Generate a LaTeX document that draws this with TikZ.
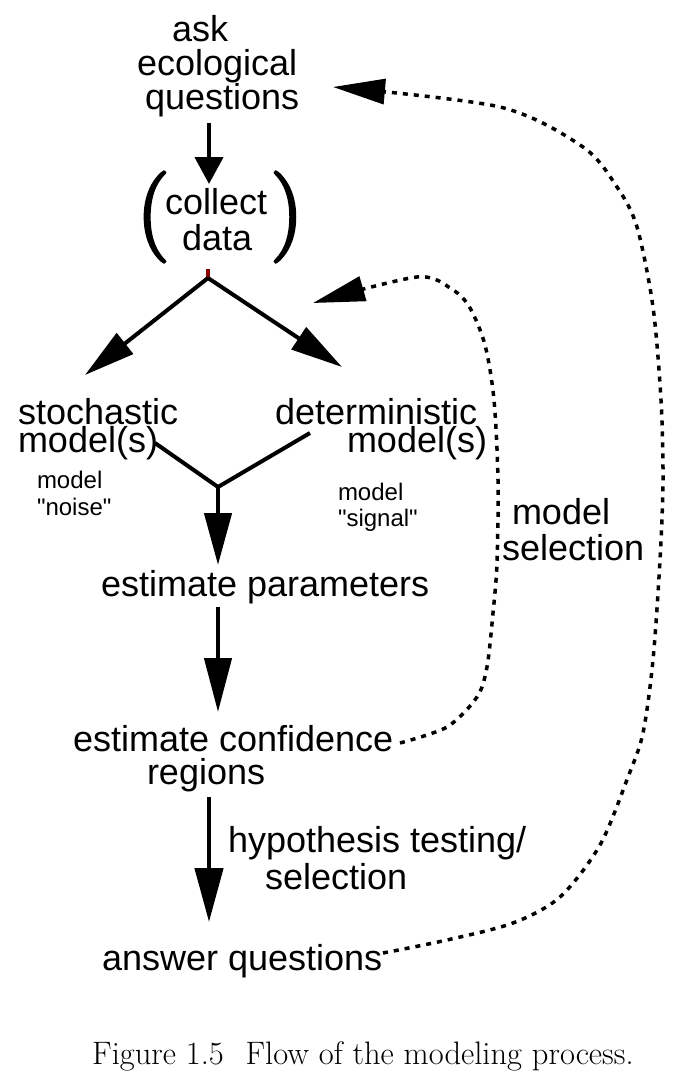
\documentclass[tikz,border=0pt]{standalone}
\usepackage{fontspec}
\newfontfamily\sansf{Liberation Sans}
\usetikzlibrary{arrows.meta}
\definecolor{tickred}{HTML}{8B0000}
\newcommand{\thickglyph}[1]{\special{pdf:literal direct 2 Tr 3 w 0 0 0 RG}#1\special{pdf:literal direct 0 Tr}}
\begin{document}
\begin{tikzpicture}[x=1pt,y=-1pt,
  txt/.style={font=\sansf\fontsize{36}{34}\selectfont, inner sep=0pt, outer sep=0pt, anchor=base west},
  smalltxt/.style={font=\sansf\fontsize{24}{27}\selectfont, inner sep=0pt, outer sep=0pt, anchor=base west},
  paren/.style={font=\fontsize{90}{90}\selectfont, inner sep=0pt, outer sep=0pt, anchor=center},
  solidarr/.style={line width=4.5pt, -{Triangle[length=52pt,width=27pt]}},
  shortarr/.style={line width=4.5pt, -{Triangle[length=27pt,width=28pt]}},
  plainline/.style={line width=4pt},
  dotarr/.style={line width=3.5pt, dash pattern=on 5pt off 6pt, -{Triangle[length=52pt,width=25pt]}},
]
\useasboundingbox (0,0) rectangle (696,1089);

% texts
\node[txt] (ask1) at (172,42) {ask};
\node[txt] (ask2) at (137,76) {ecological};
\node[txt] (ask3) at (145,110) {questions};

\node[txt] (coll1) at (165,214) {collect};
\node[txt] (coll2) at (182,250) {data};
\node[paren] (lp) at (153,217) {\thickglyph{(}};
\node[paren] (rp) at (287,217) {\thickglyph{)}};

\node[txt] (sto1) at (18,424) {stochastic};
\node[txt] (sto2) at (18,452) {model(s)};
\node[txt] (det1) at (275,424) {deterministic};
\node[txt] (det2) at (347,452) {model(s)};

\node[smalltxt] (noise1) at (37,488) {model};
\node[smalltxt] (noise2) at (37,515) {"noise"};
\node[smalltxt] (sig1) at (338,500) {model};
\node[smalltxt] (sig2) at (338,526) {"signal"};

\node[txt] (est) at (101,596) {estimate parameters};
\node[txt] (conf1) at (73,751) {estimate confidence};
\node[txt] (conf2) at (147,784) {regions};
\node[txt] (hyp1) at (228,852) {hypothesis testing/};
\node[txt] (hyp2) at (265,889) {selection};
\node[txt] (ans) at (102,970) {answer questions};
\node[txt] (ms1) at (512,524) {model};
\node[txt] (ms2) at (502,560) {selection};

\node[anchor=base west, inner sep=0pt, font=\fontsize{32.5}{32.5}\selectfont] (cap) at (92,1064) {Figure 1.5\hspace{0.667em}Flow of the modeling process.};

% coordinates
\coordinate (qbot) at (209,123);
\coordinate (ctop) at (209,184);
\coordinate (j1) at (208,278);
\coordinate (j1t) at (208,269);
\coordinate (stotip) at (85,375);
\coordinate (dettip) at (342,367);
\coordinate (stoend) at (155,443);
\coordinate (detend) at (310,433);
\coordinate (j2) at (218,487);
\coordinate (esttop) at (218,565);
\coordinate (estbot) at (218,607);
\coordinate (conftop) at (218,712);
\coordinate (confbot) at (209,797);
\coordinate (anstop) at (209,922);
\coordinate (ansend) at (383,953);
\coordinate (asktip) at (333,87);
\coordinate (confend) at (400,743);
\coordinate (modtip) at (313,303);

% solid connectors
\draw[shortarr] (qbot) -- (ctop);
\draw[line width=4pt, tickred] (j1t) -- (j1);
\draw[plainline, -{Triangle[length=51pt,width=26pt]}] (j1) -- (stotip);
\draw[plainline, -{Triangle[length=52pt,width=26pt]}] (j1) -- (dettip);
\draw[plainline] (stoend) -- (j2) -- (detend);
\draw[solidarr] (j2) -- (esttop);
\draw[solidarr, -{Triangle[length=54pt,width=27pt]}] (estbot) -- (conftop);
\draw[solidarr, -{Triangle[length=54pt,width=28pt]}] (confbot) -- (anstop);

% dotted feedback curves
\draw[dotarr] plot[smooth] coordinates {(ansend) (447,940) (513,923) (560,897) (600,845) (628,777) (643,733) (653,660) (660,560) (663,480) (661,400) (653,307) (637,227) (617,187) (583,147) (500,107) (asktip)};
\draw[dotarr] plot[smooth] coordinates {(confend) (447,727) (477,697) (487,667) (493,613) (497,563) (498,480) (494,400) (485,345) (470,308) (453,290) (417,277) (modtip)};
\end{tikzpicture}
\end{document}
